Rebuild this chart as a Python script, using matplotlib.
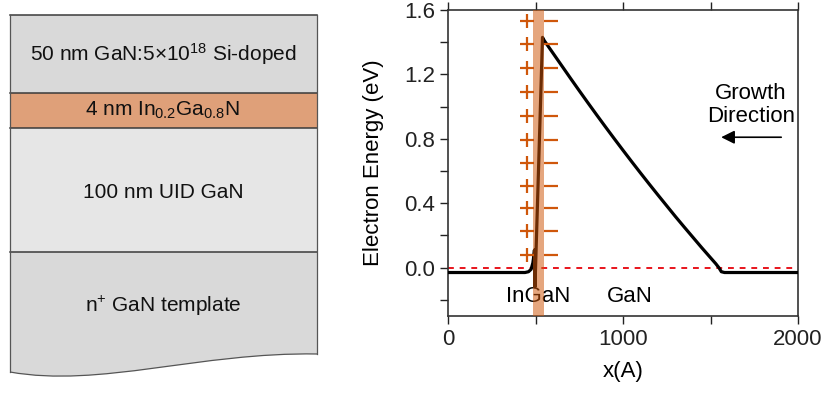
import matplotlib
matplotlib.use("Agg")
import matplotlib.pyplot as plt
from matplotlib.patches import PathPatch, Polygon
from matplotlib.path import Path
from matplotlib.ticker import MultipleLocator, FormatStrFormatter

plt.rcParams.update({
    "font.family": ["Liberation Sans", "DejaVu Sans"],
    "mathtext.fontset": "custom",
    "mathtext.rm": "Liberation Sans",
    "mathtext.default": "regular",
})

# --- band-diagram data ---
x_pos = [0, 400, 440, 460, 475, 485, 490, 494, 497, 540, 550, 600, 650, 700,
         750, 800, 850, 900, 950, 1000, 1050, 1100, 1150, 1200, 1250, 1300,
         1350, 1400, 1450, 1500, 1530, 1548, 1562, 1580, 2000]
energy = [-0.03, -0.03, -0.03, -0.025, -0.01, 0.03, 0.07, 0.11, -0.12, 1.43,
          1.41, 1.332, 1.254, 1.176, 1.099, 1.023, 0.948, 0.874, 0.801, 0.729,
          0.658, 0.588, 0.519, 0.451, 0.384, 0.317, 0.252, 0.188, 0.124,
          0.062, 0.025, 0.0, -0.025, -0.03, -0.03]

well_left, well_right = 486, 549
plus_x, minus_x = 451, 589
charge_y = [1.53, 1.39, 1.24, 1.09, 0.94, 0.79, 0.65, 0.51, 0.37, 0.23, 0.08]

# --- layer stack (pixel rows in the schematic panel) ---
layer_labels = ["50 nm GaN:5×10$^{18}$ Si-doped",
                "4 nm In$_{0.2}$Ga$_{0.8}$N",
                "100 nm UID GaN",
                "n$^{+}$ GaN template"]
layer_tops = [15, 93, 128, 252]
layer_text_y = [54, 110, 192, 306]
layer_colors = ["#d9d9d9", "#dfa079", "#e6e6e6", "#d9d9d9"]

ORANGE = "#cf570b"

fig = plt.figure(figsize=(8.27, 3.94), dpi=100)

# ---------- left: schematic ----------
sk = fig.add_axes([0, 0, 340 / 827, 1])
sk.set_xlim(0, 340)
sk.set_ylim(394, 0)
sk.axis("off")

x0, x1 = 10, 317
bottom_path = [(x1, 354), (200, 352), (100, 388), (x0, 372)]
for i, (top, col) in enumerate(zip(layer_tops, layer_colors)):
    if i + 1 < len(layer_tops):
        bot = layer_tops[i + 1]
        sk.add_patch(Polygon([(x0, top), (x1, top), (x1, bot), (x0, bot)],
                             closed=True, fc=col, ec="none"))
    else:
        verts = [(x0, top), (x1, top)] + bottom_path + [(x0, top)]
        codes = [Path.MOVETO, Path.LINETO, Path.LINETO,
                 Path.CURVE4, Path.CURVE4, Path.CURVE4, Path.CLOSEPOLY]
        sk.add_patch(PathPatch(Path(verts, codes), fc=col, ec="none"))

edge = "#3a3a3a"
for top in layer_tops:
    sk.plot([x0, x1], [top, top], color=edge, lw=1.1)
sk.plot([x0, x0], [layer_tops[0], 372], color="#555555", lw=0.9)
sk.plot([x1, x1], [layer_tops[0], 354], color="#555555", lw=0.9)
sk.add_patch(PathPatch(Path(bottom_path, [Path.MOVETO, Path.CURVE4, Path.CURVE4, Path.CURVE4]),
                       fc="none", ec="#555555", lw=0.9))

for lab, ty in zip(layer_labels, layer_text_y):
    sk.text(163, ty, lab, ha="center", va="center", fontsize=15, color="#111111")

# ---------- right: band diagram ----------
ax = fig.add_axes([448 / 827, 78 / 394, 350 / 827, 306 / 394])
ax.plot(x_pos, energy, color="black", lw=2.3, zorder=3,
        solid_joinstyle="round")
ax.axhline(0, color="#e8141c", ls=(0, (3, 3)), lw=1.4, zorder=2)
ax.axvspan(well_left, well_right, color=ORANGE, alpha=0.53, lw=0, zorder=4)
ax.plot([plus_x] * len(charge_y), charge_y, ls="none", marker="+",
        ms=9.5, mew=1.6, color=ORANGE, zorder=5)
ax.plot([minus_x] * len(charge_y), charge_y, ls="none", marker="_",
        ms=10.5, mew=1.6, color=ORANGE, zorder=5)

ax.text(514, -0.18, "InGaN", ha="center", va="center", fontsize=16)
ax.text(1040, -0.18, "GaN", ha="center", va="center", fontsize=16)
ax.text(1730, 1.01, "Growth\nDirection", ha="center", va="center",
        fontsize=16, linespacing=1.15)
ax.annotate("", xy=(1545, 0.81), xytext=(1920, 0.81),
            arrowprops=dict(arrowstyle="-|>", color="black", lw=1.2,
                            mutation_scale=20))

ax.set_xlim(0, 2000)
ax.set_ylim(-0.3, 1.6)
ax.xaxis.set_major_locator(MultipleLocator(1000))
ax.xaxis.set_minor_locator(MultipleLocator(500))
ax.yaxis.set_major_locator(MultipleLocator(0.4))
ax.yaxis.set_minor_locator(MultipleLocator(0.2))
ax.yaxis.set_major_formatter(FormatStrFormatter("%.1f"))
ax.tick_params(which="both", direction="out", top=True, right=False,
               labelsize=16, width=1.0, colors="#222222", length=6)
for sp in ax.spines.values():
    sp.set_linewidth(1.2)
    sp.set_color("#333333")

ax.set_xlabel("x(A)", fontsize=16, labelpad=8)
ax.set_ylabel("Electron Energy (eV)", fontsize=16, labelpad=14)

fig.savefig("out.png", dpi=100)
